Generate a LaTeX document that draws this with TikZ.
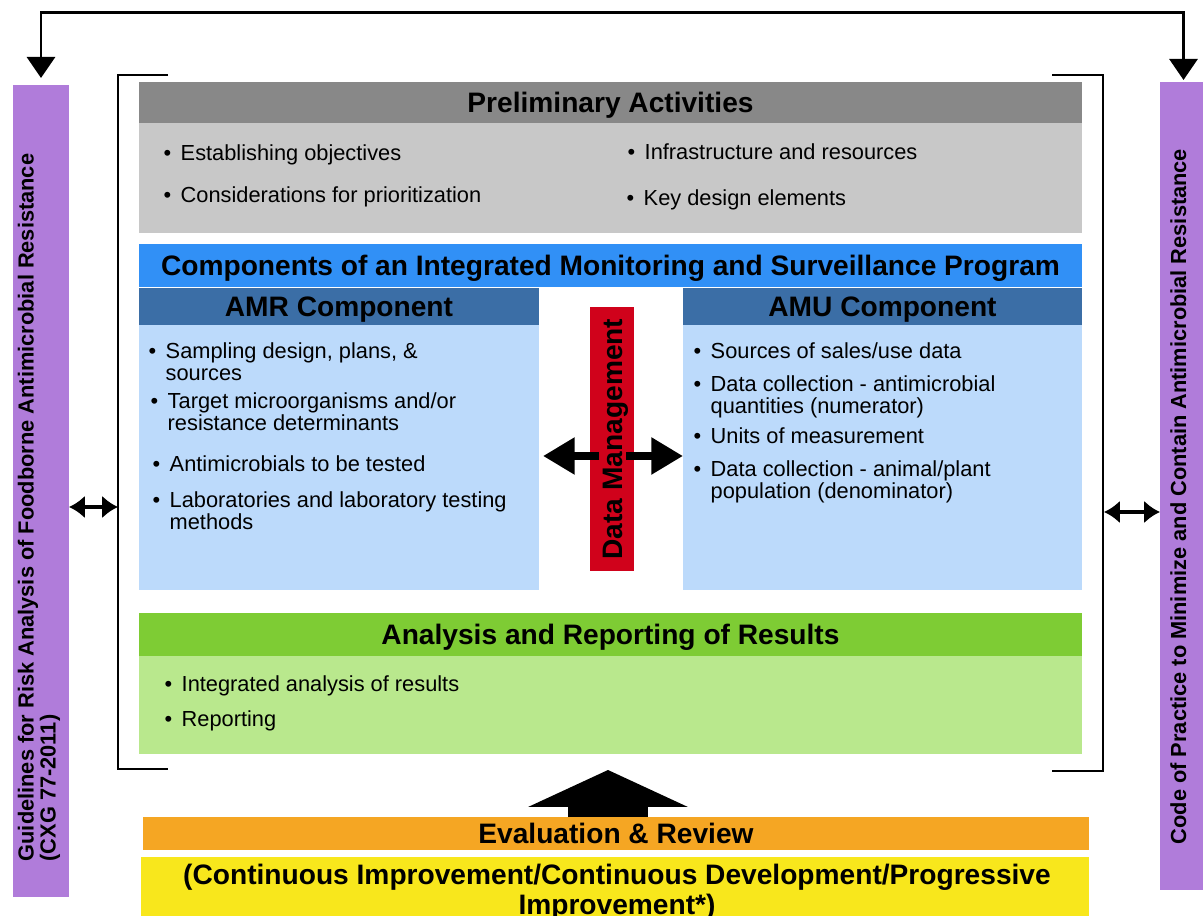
\documentclass[tikz,border=0pt]{standalone}
\usepackage{fontspec}
\setmainfont{Liberation Sans}
\usetikzlibrary{arrows.meta,fit,positioning}

\definecolor{sidepurple}{HTML}{B07CDA}
\definecolor{prelimdark}{HTML}{888888}
\definecolor{prelimlight}{HTML}{C8C8C8}
\definecolor{compblue}{HTML}{3190F6}
\definecolor{amhead}{HTML}{3B6EA6}
\definecolor{ambody}{HTML}{BCDAFB}
\definecolor{dmred}{HTML}{D0021B}
\definecolor{reshead}{HTML}{7ECC34}
\definecolor{resbody}{HTML}{B9E88D}
\definecolor{evalorange}{HTML}{F5A623}
\definecolor{ciyellow}{HTML}{F8E71C}

\newcommand{\bul}[1]{\parbox[t]{6cm}{\raggedright\let\\\newline\hangindent=0.17cm\hangafter=1\makebox[0.17cm][l]{\textbullet}#1}}

\begin{document}
\begin{tikzpicture}[x=0.01cm, y=-0.01cm, font=\fontsize{6.2}{6.2}\selectfont,
  panel/.style={inner sep=0pt, outer sep=0pt},
  headtext/.style={inner sep=0pt, text height=6.8pt, text depth=1pt, font=\bfseries\fontsize{8}{9}\selectfont},
  bulitem/.style={anchor=base west, inner sep=0pt},
  sidetext/.style={inner sep=0pt, rotate=90, font=\bfseries\fontsize{6.2}{6.3}\selectfont},
  bracketline/.style={line width=0.6pt},
  feedback/.style={line width=0.85pt, {Triangle[width=8pt,length=6pt]}-{Triangle[width=8pt,length=6pt]}},
  twoway/.style={line width=1.3pt, {Latex[width=6.5pt,length=4.5pt]}-{Latex[width=6.5pt,length=4.5pt]}},
  fatarrow/.style={line width=2.5pt, -{Triangle[width=10pt,length=9pt]}}]
\useasboundingbox (0,0) rectangle (1203,916);

% side documents
\node[panel, fill=sidepurple, fit={(13,85) (69,897)}] (guidebar) {};
\node[panel, fill=sidepurple, fit={(1160,82) (1207,890)}] (codebar) {};
\node[sidetext, anchor=north west, align=left] (guidetext) at (17,862)
  {Guidelines for Risk Analysis of Foodborne Antimicrobial Resistance\\(CXG 77-2011)};
\node[sidetext, anchor=base west] (codetext) at (1186,845)
  {Code of Practice to Minimize and Contain Antimicrobial Resistance};

% preliminary activities
\node[panel, fill=prelimdark, fit={(139,82) (1082,123)}] (prelimhead) {};
\node[headtext] (prelimtitle) at (prelimhead) {Preliminary Activities};
\node[panel, fill=prelimlight, fit={(139,123) (1082,233)}] (prelimbody) {};
\foreach \i/\x/\y/\t in {1/163/161/Establishing objectives, 2/163/203/Considerations for prioritization,
    3/627/160/Infrastructure and resources, 4/626/206/Key design elements}
  \node[bulitem] (pa\i) at (\x,\y) {\bul{\t}};

% program components
\node[panel, fill=compblue, fit={(139,244) (1082,287)}] (comphead) {};
\node[headtext] (comptitle) at (comphead) {Components of an Integrated Monitoring and Surveillance Program};
\node[panel, fill=amhead, fit={(139,288) (539,325)}] (amrhead) {};
\node[headtext] (amrtitle) at (amrhead) {AMR Component};
\node[panel, fill=ambody, fit={(139,325) (539,590)}] (amrbody) {};
\node[panel, fill=amhead, fit={(683,288) (1082,325)}] (amuhead) {};
\node[headtext] (amutitle) at (amuhead) {AMU Component};
\node[panel, fill=ambody, fit={(683,325) (1082,590)}] (amubody) {};

\node[bulitem] (amr1) at (148,359) {\bul{Sampling design, plans, \&\\sources}};
\node[bulitem] (amr2) at (150,409) {\bul{Target microorganisms and/or\\resistance determinants}};
\node[bulitem] (amr3) at (152,472) {\bul{Antimicrobials to be tested}};
\node[bulitem] (amr4) at (152,508) {\bul{Laboratories and laboratory testing\\methods}};

\node[bulitem] (amu1) at (693,359) {\bul{Sources of sales/use data}};
\node[bulitem] (amu2) at (693,392) {\bul{Data collection - antimicrobial\\quantities (numerator)}};
\node[bulitem] (amu3) at (693,444) {\bul{Units of measurement}};
\node[bulitem] (amu4) at (693,477) {\bul{Data collection - animal/plant\\population (denominator)}};

\node[panel, fill=dmred, fit={(590,307) (634,571)}] (dm) {};
\coordinate (dmleft) at (599,456);
\coordinate (dmright) at (626,456);
\draw[fatarrow] (dmleft) -- ([xshift=0.04cm]amrbody.east |- dmleft);
\draw[fatarrow] (dmright) -- (amubody.west |- dmright);
\node[headtext, rotate=90] (dmtext) at (dm.center) {Data Management};

% results
\node[panel, fill=reshead, fit={(139,613) (1082,656)}] (reshead) {};
\node[headtext] (restitle) at (reshead) {Analysis and Reporting of Results};
\node[panel, fill=resbody, fit={(139,656) (1082,754)}] (resbody) {};
\node[bulitem] (res1) at (164,692) {\bul{Integrated analysis of results}};
\node[bulitem] (res2) at (164,727) {\bul{Reporting}};

% brackets round the program
\draw[bracketline] (168,75) -| (118,769) -- (168,769);
\draw[bracketline] (1052,75) -| (1103,771) -- (1052,771);
\coordinate (lbrack) at (118,507);
\coordinate (rbrack) at (1104,512);
\draw[twoway] (guidebar.east |- lbrack) -- (lbrack);
\draw[twoway] (rbrack) -- (codebar.west |- rbrack);

% feedback loop on top
\coordinate (feedtop) at (600,13);
\draw[feedback, shorten <=0.07cm, shorten >=0.02cm] (guidebar.north) |- (feedtop) -| (codebar.north);

% evaluation
\node[panel, fill=evalorange, fit={(143,817) (1089,850)}] (evalhead) {};
\node[headtext] (evaltitle) at (evalhead) {Evaluation \& Review};
\node[panel, fill=ciyellow, fit={(141,857) (1089,923)}] (cibox) {};
\node[inner sep=0pt, align=center, font=\bfseries\fontsize{8}{7.4}\selectfont] (citext) at (617,892)
  {(Continuous Improvement/Continuous Development/Progressive\\Improvement*)};
\coordinate (uptip) at (608,770);
\draw[line width=22.7pt, -{Triangle[width=45pt,length=10.5pt]}] (evalhead.north -| uptip) -- (uptip);
\end{tikzpicture}
\end{document}
